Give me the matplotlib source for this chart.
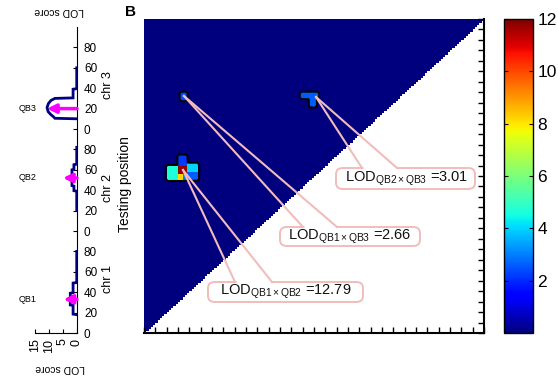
import numpy as np
import matplotlib
matplotlib.use('Agg')
import matplotlib.pyplot as plt
from matplotlib.patches import FancyBboxPatch
from matplotlib import font_manager

plt.rcParams['font.family'] = ['Liberation Sans', 'DejaVu Sans']
plt.rcParams['mathtext.fontset'] = 'custom'
plt.rcParams['mathtext.rm'] = 'Liberation Sans'
plt.rcParams['mathtext.it'] = 'Liberation Sans'

NARROW = None
for cand in ['Liberation Sans Narrow', 'DejaVu Sans Condensed']:
    try:
        font_manager.findfont(cand, fallback_to_default=False)
        NARROW = [cand, 'DejaVu Sans']
        break
    except Exception:
        pass
if NARROW is None:
    NARROW = ['Liberation Sans', 'DejaVu Sans']
    NSIZE = 8.5
else:
    NSIZE = 10

# ---------------- data ----------------
chr_names = ['chr 1', 'chr 2', 'chr 3']
chr_offset = [0, 100, 200]
pos_ticks = [0, 20, 40, 60, 80]
lod_ticks = [0, 5, 10, 15]

chr1_pos = [18, 18.5, 27, 27.5, 39, 39.5, 49, 49.5, 80]
chr1_lod = [0.1, 1.4, 1.4, 2.4, 2.4, 1.4, 1.4, 0.1, 0.1]
chr2_pos = [21, 39, 39.5, 44, 44.5, 60, 60.5, 65, 65.5, 82]
chr2_lod = [0.1, 0.1, 1.1, 1.1, 1.8, 1.8, 1.1, 1.1, 0.1, 0.1]
chr3_pos = [10, 10.5, 12, 14, 17, 21, 25, 28, 30, 30.5, 39, 39.5, 60]
chr3_lod = [0.1, 7.9, 8.4, 9.3, 10.3, 10.7, 10.2, 9.3, 7.9, 1.4, 1.4, 0.1, 0.1]

qtl_names = ['QB1', 'QB2', 'QB3']
qtl_chr = [0, 1, 2]
qtl_pos = [33, 52, 20]
qtl_lod = [4.8, 5.0, 10.7]

# epistasis heat map spots (testing positions, cumulative cM)
spot_x0 = [21, 31, 31, 31, 35, 39, 39, 32, 139, 147]
spot_x1 = [31, 39, 39, 35, 39, 48, 48, 38, 155, 153]
spot_y0 = [147, 161, 153, 147, 147, 154, 147, 223, 224, 217]
spot_y1 = [161, 171, 161, 153, 153, 162, 154, 230, 230, 224]
spot_lod = [4.6, 2.2, 11.8, 8.2, 3.0, 4.0, 2.6, 2.4, 2.6, 2.6]

pairs = ['QB1\\times QB2', 'QB1\\times QB3', 'QB2\\times QB3']
pair_lod = ['12.79', '2.66', '3.01']

cbar_ticks = [2, 4, 6, 8, 10, 12]
# --------------------------------------

W, H = 558, 382
fig = plt.figure(figsize=(W / 100, H / 100), dpi=100)


def fx(px):
    return px / W


def fy(py):
    return 1 - py / H


# ---- left LOD profile panel ----
axL = fig.add_axes([fx(35), fy(333), fx(77) - fx(35), fy(27) - fy(333)])
axL.set_xlim(15, 0)
axL.set_ylim(0, 300)
for s in ['top', 'left']:
    axL.spines[s].set_visible(False)
for s in ['right', 'bottom']:
    axL.spines[s].set_linewidth(0.8)
axL.set_facecolor('none')

profiles = [(chr1_pos, chr1_lod), (chr2_pos, chr2_lod), (chr3_pos, chr3_lod)]
for off, (p, l) in zip(chr_offset, profiles):
    axL.plot(l, [off + v for v in p], color='#000080', lw=2, solid_joinstyle='miter', zorder=3)

for name, c, p, l in zip(qtl_names, qtl_chr, qtl_pos, qtl_lod):
    y = chr_offset[c] + p
    axL.annotate('', xy=(l, y), xytext=(0, y),
                 arrowprops=dict(arrowstyle='-|>', color='#ff00ff', lw=2.5,
                                 mutation_scale=13, shrinkA=0, shrinkB=0), zorder=4)
    axL.text(17.5, y, name, fontsize=6.5, ha='center', va='center', clip_on=False)

yt = [off + t for off in chr_offset for t in pos_ticks]
axL.yaxis.tick_right()
axL.set_yticks(yt)
axL.set_yticklabels([str(t) for off in chr_offset for t in pos_ticks], family=NARROW, fontsize=NSIZE)
axL.tick_params(axis='y', direction='in', length=3, width=0.8, pad=5)
axL.set_xticks(lod_ticks)
axL.set_xticklabels([str(t) for t in lod_ticks], rotation=90, family=NARROW, fontsize=9)
axL.tick_params(axis='x', direction='in', length=3, width=0.8, pad=4)

for name, py in zip(chr_names, [279, 188, 85]):
    fig.text(fx(108), fy(py), name, rotation=90, ha='center', va='center', fontsize=9)
fig.text(fx(125), fy(184), 'Testing position', rotation=90, ha='center', va='center', fontsize=10)
fig.text(fx(59), fy(11), 'LOD score', rotation=180, ha='center', va='center', fontsize=7.5)
fig.text(fx(60), fy(368), 'LOD score', rotation=180, ha='center', va='center', fontsize=7.5)
fig.text(fx(131), fy(12), 'B', fontweight='bold', ha='center', va='center', fontsize=11)

# ---- heat map ----
ax = fig.add_axes([fx(144), fy(333), fx(484) - fx(144), fy(19) - fy(333)])
step = 2
edges = np.arange(0, 300 + step, step)
centers = edges[:-1] + step / 2
CX, CY = np.meshgrid(centers, centers)
Z = np.zeros_like(CX, dtype=float)
for x0, x1, y0, y1, v in zip(spot_x0, spot_x1, spot_y0, spot_y1, spot_lod):
    Z[(CX >= x0) & (CX < x1) & (CY >= y0) & (CY < y1)] = v
Z = np.ma.masked_where(CY < CX, Z)

cmap = plt.get_cmap('jet').copy()
cmap.set_bad('white')
im = ax.imshow(Z, origin='lower', extent=[0, 300, 0, 300], cmap=cmap, vmin=0, vmax=12,
               interpolation='nearest', aspect='auto')
ax.contour(CX, CY, Z, levels=[0.5], colors='k', linewidths=1.5)
ax.set_xlim(0, 300)
ax.set_ylim(0, 300)
for s in ['top', 'left']:
    ax.spines[s].set_visible(False)
for s in ['bottom', 'right']:
    ax.spines[s].set_linewidth(1.5)
ax.set_xticks(np.arange(0, 301, 10))
ax.set_yticks(np.arange(0, 301, 10))
ax.tick_params(direction='in', length=4, width=1, labelbottom=False, labelleft=False,
               left=False, right=True, bottom=True, top=False)


def px2d(px, py):
    return (px - 144) / 340 * 300, (333 - py) / 314 * 300


callouts = [
    # apex, base left, base right, box (x0,y0,x1,y1) in px, text x px
    ((183, 170), (235, 282), (272, 282), (208, 282, 363, 302), 220),
    ((184, 96), (303, 227), (337, 227), (280, 227, 420, 246), 288),
    ((316, 97), (362, 168), (397, 168), (336, 168, 475, 189), 345),
]
pink = '#f2bcbc'
for (apex, bl, br, box, tx), pr, lv in zip(callouts, pairs, pair_lod):
    bx0, by1 = px2d(box[0], box[1])
    bx1, by0 = px2d(box[2], box[3])
    patch = FancyBboxPatch((bx0, by0), bx1 - bx0, by1 - by0,
                           boxstyle='round,pad=0,rounding_size=6',
                           fc='white', ec=pink, lw=1.4, zorder=5)
    ax.add_patch(patch)
    a = px2d(*apex)
    l = px2d(*bl)
    r = px2d(*br)
    ax.plot([l[0] + 0.8, r[0] - 0.8], [l[1], r[1]], color='white', lw=2.5, zorder=6,
            solid_capstyle='butt')
    ax.plot([a[0], l[0]], [a[1], l[1]], color=pink, lw=1.5, zorder=6)
    ax.plot([a[0], r[0]], [a[1], r[1]], color=pink, lw=1.5, zorder=6)
    tx_d, _ = px2d(tx, 0)
    ax.text(tx_d, (by0 + by1) / 2, r'LOD$_{\mathregular{' + pr + '}}$ =' + lv,
            fontsize=10.5, ha='left', va='center', zorder=7, color='#111111')

# ---- colorbar ----
cax = fig.add_axes([fx(504), fy(333), fx(533) - fx(504), fy(19) - fy(333)])
cb = fig.colorbar(im, cax=cax, ticks=cbar_ticks)
cb.outline.set_linewidth(1)
cax.tick_params(direction='in', length=3, width=0.8, left=True, right=True, labelsize=12.5, pad=3)

fig.savefig('out.png', dpi=100)
